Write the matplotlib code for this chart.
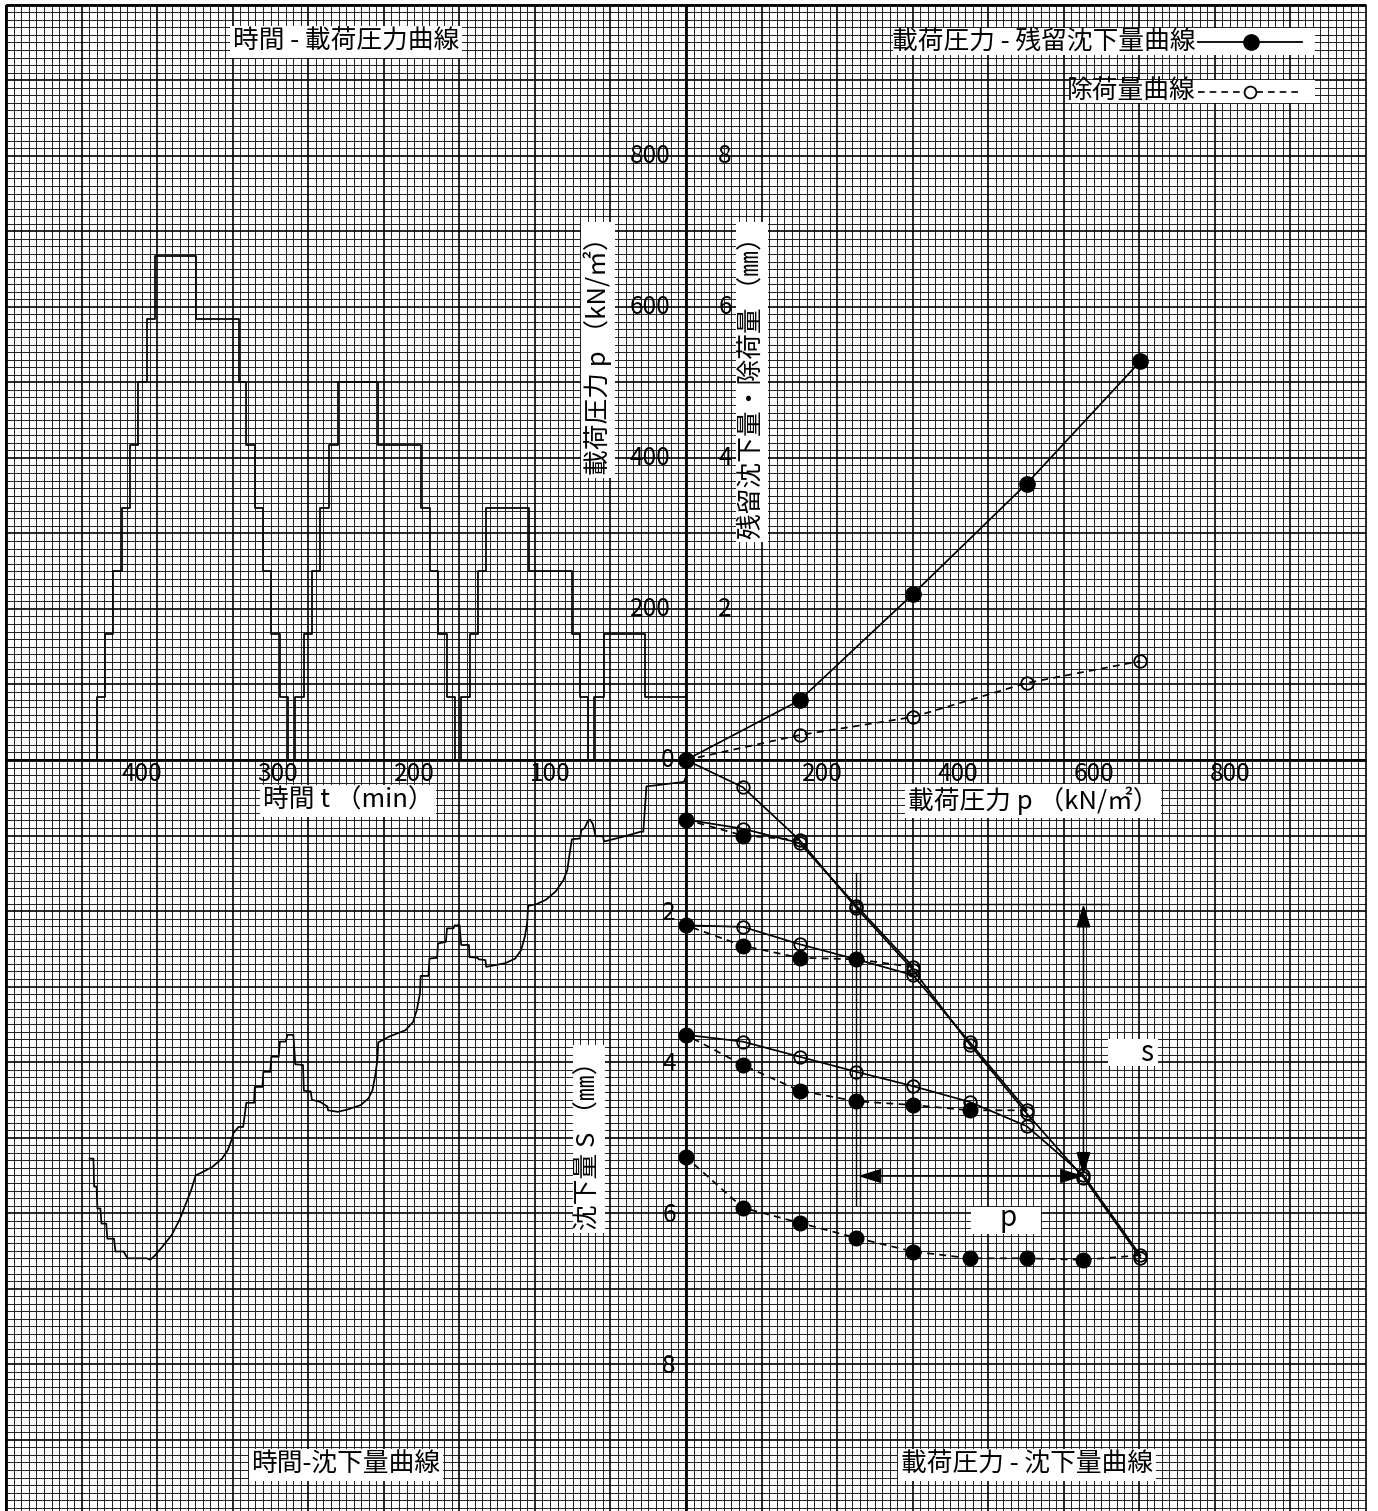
import matplotlib
matplotlib.use("Agg")
import matplotlib.pyplot as plt  # noqa: E402
import numpy as np  # noqa: E402

plt.rcParams['font.family'] = ['Noto Sans CJK JP', 'DejaVu Sans']

# ---- page geometry (pixels) ----
W, H = 1378, 1511
OX, OY = 686, 760          # common origin of the four diagrams
CELL = 7.553               # 1 grid cell
PX_P = 0.68                # px per kN/m2 (horizontal)
PX_PV = 0.755              # px per kN/m2 (vertical)
PX_T = 1.36                # px per min
PX_S = 75.5                # px per mm

# ---- data ----
p_steps = [0, 83.5, 167, 250.5, 334, 417.5, 501, 584.5, 668]

# time - load pressure (step start time, level)
tp_t = [0, 30.0, 60.4, 67.4, 71.7, 77.9, 83.9, 115.7, 146.9, 152.6, 158.8, 165.3,
        170.1, 176.1, 182.4, 188.6, 195.1, 226.3, 256.1, 262.6, 268.9, 275.1, 281.0, 287.3,
        293.0, 298.7, 304.9, 310.9, 317.1, 323.3, 329.0, 360.5, 390.3, 396.5, 403.0, 409.0,
        414.9, 421.2, 427.1, 433.4]
tp_p = [83.5, 167, 83.5, 0, 83.5, 167, 250.5, 334, 250.5, 167, 83.5, 0,
        83.5, 167, 250.5, 334, 417.5, 501, 417.5, 334, 250.5, 167, 83.5, 0,
        83.5, 167, 250.5, 334, 417.5, 501, 584.5, 668, 584.5, 501, 417.5, 334,
        250.5, 167, 83.5, 0]

# time - settlement
ts_t = [0, 0, 1.5, 29.1, 31.4, 33.4, 45.0, 60.3, 61.0, 66.5, 68.5, 70.5, 72.5, 74.5, 77.0, 77.9, 83.9,
        85.9, 87.3, 90.1, 95.8, 102.9, 110.0, 115.7,
        116.2, 116.8, 118.5, 121.3, 125.6, 132.7, 146.9,
        147.5, 152.6, 153.2, 159.2, 159.6, 165.3, 166.5, 170.1,
        171.0, 175.7, 176.6, 182.4, 183.0, 188.6, 189.4, 195.1,
        195.6, 197.9, 200.7, 206.4, 217.8, 226.3,
        226.9, 228.6, 230.5, 233.4, 239.1, 249.0, 256.1,
        263.2, 263.7, 268.8, 275.1, 275.9, 281.0, 281.6, 287.3, 288.7, 293.0,
        294.4, 298.6, 299.5, 304.9, 305.7, 310.8, 311.4, 317.1, 317.6, 323.3, 325.6, 329.0,
        332.7, 334.1, 337.0, 341.2, 348.3, 356.8, 360.5,
        363.9, 367.6, 372.4, 378.1, 385.2, 390.3, 394.0,
        396.5, 410.7, 413.5, 419.5, 420.6, 425.5, 426.3, 429.8, 430.6, 432.8, 433.4, 435.2, 435.7, 438.5]
ts_s = [0.00, 0.22, 0.29, 0.35, 0.95, 0.95, 1.01, 1.08, 1.01, 1.01, 0.85, 0.79, 0.82, 0.90, 0.93, 1.04, 1.05,
        1.28, 1.46, 1.59, 1.74, 1.85, 1.91, 1.93,
        1.96, 2.16, 2.34, 2.52, 2.63, 2.69, 2.74,
        2.65, 2.64, 2.62, 2.61, 2.45, 2.45, 2.19, 2.19,
        2.23, 2.23, 2.41, 2.43, 2.62, 2.63, 2.86, 2.86,
        3.09, 3.31, 3.47, 3.58, 3.66, 3.74,
        3.97, 4.19, 4.37, 4.48, 4.57, 4.63, 4.66,
        4.64, 4.59, 4.53, 4.50, 4.39, 4.38, 4.04, 4.03, 3.64, 3.64,
        3.73, 3.73, 3.93, 3.93, 4.13, 4.13, 4.33, 4.33, 4.54, 4.54, 4.86, 4.86,
        4.94, 5.03, 5.17, 5.28, 5.39, 5.47, 5.50,
        5.70, 5.87, 6.09, 6.29, 6.45, 6.56, 6.62,
        6.60, 6.60, 6.51, 6.51, 6.34, 6.34, 6.14, 6.14, 5.94, 5.94, 5.65, 5.65, 5.28, 5.28]

# load pressure - settlement
# virgin (envelope) curve, drawn separately from the reloading branches
envelope_s = [0.00, 0.36, 1.06, 1.96, 2.78, 3.77, 4.68, 5.53, 6.59]
# reloading branches (solid, open circles)
reload1_s = [0.79, 0.91, 1.10, 1.93, 2.74]
reload2_s = [2.19, 2.21, 2.44, 2.64, 2.85, 3.74, 4.64]
reload3_s = [3.64, 3.73, 3.93, 4.13, 4.32, 4.53, 4.85, 5.50, 6.56]
# unloading (dashed, filled circles), from peak pressure down to 0
unload1_s = [1.06, 1.00, 0.79]
unload2_s = [2.74, 2.64, 2.62, 2.46, 2.19]
unload3_s = [4.64, 4.64, 4.57, 4.52, 4.38, 4.04, 3.64]
unload4_s = [6.56, 6.62, 6.60, 6.60, 6.51, 6.33, 6.13, 5.93, 5.26]

# load pressure - residual settlement / rebound
pr_p = [0, 167, 334, 501, 668]
resid_s = [0, 0.79, 2.20, 3.66, 5.28]
rebound_s = [0, 0.33, 0.57, 1.02, 1.31]

p_ticks = [200, 400, 600, 800]
t_ticks = [100, 200, 300, 400]
s_ticks = [2, 4, 6, 8]

fig = plt.figure(figsize=(W / 100, H / 100), dpi=100)

# ---- graph paper ----
bg = fig.add_axes([0, 0, 1, 1], zorder=0)
bg.set_xlim(0, W); bg.set_ylim(H, 0); bg.axis("off")
kx = np.arange(-90, 91)
ky = np.arange(-100, 100)
x_l, x_r, y_t = OX - 90 * CELL, OX + 90 * CELL, OY - 100 * CELL
fx = OX + kx * CELL
fy = OY + ky * CELL
bg.vlines(fx[kx % 10 != 0], y_t, H, colors="#1e1e1e", lw=0.7, zorder=1)
bg.hlines(fy[ky % 10 != 0], x_l, x_r, colors="#1e1e1e", lw=0.7, zorder=1)
bg.vlines(fx[kx % 10 == 0], y_t, H, colors="black", lw=1.2, zorder=1.1)
bg.hlines(fy[ky % 10 == 0], x_l, x_r, colors="black", lw=1.2, zorder=1.1)
bg.vlines([OX, x_l], y_t, H, colors="black", lw=2.0, zorder=1.2)
bg.hlines([OY, y_t], x_l, x_r, colors="black", lw=2.0, zorder=1.2)

wbox = dict(facecolor="white", edgecolor="none", pad=2.0)
ft = 18.5

# titles / legend
bg.text(346, 42, "時間 - 載荷圧力曲線", fontsize=ft, ha="center", va="center", bbox=wbox, zorder=5)
bg.text(346, 1465, "時間-沈下量曲線", fontsize=ft, ha="center", va="center", bbox=wbox, zorder=5)
bg.text(1027, 1465, "載荷圧力 - 沈下量曲線", fontsize=ft, ha="center", va="center", bbox=wbox, zorder=5)
bg.add_patch(plt.Rectangle((893, 28), 422, 27, facecolor="white", edgecolor="none", zorder=4))
bg.add_patch(plt.Rectangle((1070, 80), 245, 23, facecolor="white", edgecolor="none", zorder=4))
bg.text(1196, 42, "載荷圧力 - 残留沈下量曲線", fontsize=ft, ha="right", va="center", zorder=5)
bg.text(1196, 92, "除荷量曲線", fontsize=ft, ha="right", va="center", zorder=5)
bg.plot([1198, 1302], [42, 42], color="black", lw=1.3, zorder=5)
bg.plot([1251], [42], "o", color="black", ms=11, zorder=6)
bg.plot([1198, 1298], [92, 92], color="black", lw=1.2, dashes=(4, 3), zorder=5)
bg.plot([1250], [92], "o", mfc="white", mec="black", mew=1.3, ms=8.5, zorder=6)

# axis titles
bg.text(348, 801, "時間 t （min）", fontsize=ft, ha="center", va="center", bbox=wbox, zorder=5)
bg.text(1033, 801, "載荷圧力 p （kN/㎡）", fontsize=ft, ha="center", va="center", bbox=wbox, zorder=5)
bg.text(598, 350, "載荷圧力 p （kN/㎡）", fontsize=ft, rotation=90, ha="center", va="center",
        bbox=wbox, zorder=5)
bg.text(752, 382, "残留沈下量・除荷量 （㎜）", fontsize=ft, rotation=90, ha="center", va="center",
        bbox=wbox, zorder=5)
bg.text(589, 1139, "沈下量 S （㎜）", fontsize=ft, rotation=90, ha="center", va="center",
        bbox=wbox, zorder=5)

# tick labels
fl = 17.5
for v in p_ticks:
    bg.text(650, OY - v * PX_PV, f"{v}", fontsize=fl, ha="center", va="center", zorder=5)
    bg.text(OX + v * PX_P, 774, f"{v}", fontsize=fl, ha="center", va="center", zorder=5)
for v in s_ticks:
    bg.text(725, OY - v * PX_S, f"{v}", fontsize=fl, ha="center", va="center", zorder=5)
    bg.text(669, OY + v * PX_S + 2, f"{v}", fontsize=fl, ha="center", va="center", zorder=5)
for v in t_ticks:
    bg.text(OX - v * PX_T, 774, f"{v}", fontsize=fl, ha="center", va="center", zorder=5)
bg.text(668, 760, "0", fontsize=fl, ha="center", va="center", zorder=5)

# s / p boxes
bg.add_patch(plt.Rectangle((1108, 1039), 50, 27, facecolor="white", edgecolor="none", zorder=4))
bg.text(1147, 1053, "s", fontsize=20, ha="center", va="center", zorder=5)
bg.add_patch(plt.Rectangle((971, 1207), 70, 27, facecolor="white", edgecolor="none", zorder=4))
bg.text(1008, 1218, "p", fontsize=20, ha="center", va="center", zorder=5)


def quad(x0, x1, y0, y1):
    ax = fig.add_axes([x0 / W, 1 - y1 / H, (x1 - x0) / W, (y1 - y0) / H], zorder=2)
    ax.axis("off")
    ax.patch.set_visible(False)
    return ax


ax_tp = quad(0, OX, 0, OY)
ax_tp.set_xlim(OX / PX_T, 0); ax_tp.set_ylim(0, OY / PX_PV)
ax_ts = quad(0, OX, OY, H)
ax_ts.set_xlim(OX / PX_T, 0); ax_ts.set_ylim((H - OY) / PX_S, 0)
ax_ps = quad(OX, W, OY, H)
ax_ps.set_xlim(0, (W - OX) / PX_P); ax_ps.set_ylim((H - OY) / PX_S, 0)
ax_rs = quad(OX, W, 0, OY)
ax_rs.set_xlim(0, (W - OX) / PX_P); ax_rs.set_ylim(0, OY / PX_S)

lw = 1.25
# time - load pressure
ax_tp.step(tp_t, tp_p, where="post", color="black", lw=lw, clip_on=False)
# time - settlement
ax_ts.plot(ts_t, ts_s, color="black", lw=lw, clip_on=False)

# load pressure - settlement
openm = dict(marker="o", ms=9, mfc="none", mec="black", mew=1.3)
ax_ps.plot(p_steps, envelope_s, color="black", lw=lw, clip_on=False, **openm)
for s in (reload1_s, reload2_s, reload3_s):
    ax_ps.plot(p_steps[:len(s)], s, color="black", lw=lw, clip_on=False, **openm)
for s in (unload1_s, unload2_s, unload3_s, unload4_s):
    pp = p_steps[:len(s)][::-1]
    ax_ps.plot(pp, s, color="black", lw=lw, dashes=(4, 3), clip_on=False)
    ax_ps.plot(pp[1:], s[1:], "o", color="black", ms=10.5, clip_on=False)

# p / s construction lines
ax_ps.plot([250.5, 250.5], [1.50, 5.89], color="black", lw=1.0)
ax_ps.plot([256, 256], [1.50, 5.89], color="black", lw=1.0)
ax_ps.plot([250.5, 620], [1.91, 1.91], color="black", lw=1.0)
arr = dict(arrowstyle="<|-|>,head_length=0.8,head_width=0.25", color="black", lw=1.1,
           shrinkA=0, shrinkB=0, mutation_scale=18)
ax_ps.annotate("", xy=(584.5, 1.91), xytext=(584.5, 5.50), arrowprops=arr)
ax_ps.annotate("", xy=(253, 5.51), xytext=(584.5, 5.51), arrowprops=arr)

# load pressure - residual settlement / rebound
ax_rs.plot(pr_p, rebound_s, color="black", lw=lw, dashes=(4, 3), clip_on=False,
           marker="o", ms=9, mfc="none", mec="black", mew=1.3)
ax_rs.plot(pr_p, resid_s, color="black", lw=lw, marker="o", ms=11, clip_on=False)

fig.savefig("out.png", dpi=100)
